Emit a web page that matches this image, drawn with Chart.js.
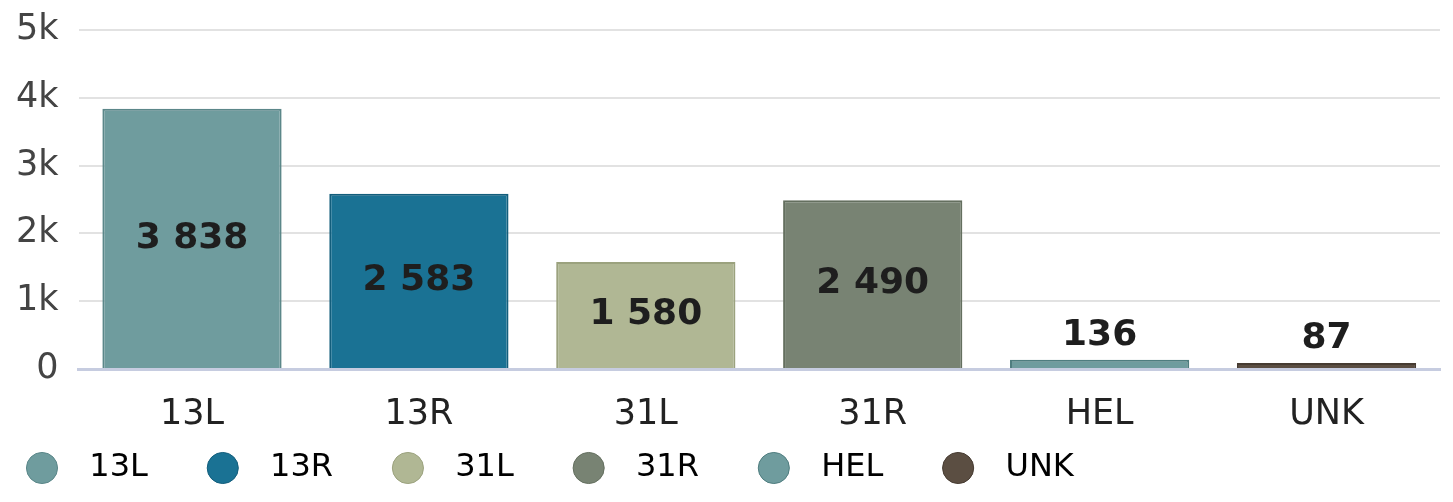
<!DOCTYPE html>
<html>
<head>
<meta charset="utf-8">
<script src="https://cdn.jsdelivr.net/npm/chart.js@4/dist/chart.umd.min.js"></script>
<style>
  html, body { margin: 0; padding: 0; background: #fff; }
  #wrap { width: 1453px; height: 502px; }
</style>
</head>
<body>
<div id="wrap"><canvas id="runway-chart"></canvas></div>
<script>
const runways = ["13L", "13R", "31L", "31R", "HEL", "UNK"];
const movements = [3838, 2583, 1580, 2490, 136, 87];
const yTicks = [0, 1000, 2000, 3000, 4000, 5000];
const fillColors = ["#6f9c9e", "#1a7294", "#b0b794", "#788373", "#6f9c9e", "#5b4e42"];
const edgeColors = ["#5b8789", "#135e7c", "#9ba27e", "#646f5f", "#4f7d7f", "#463b31"];

const FONT = "'DejaVu Sans', sans-serif";

// space as thousands separator
function fmt(v) {
  return String(v).replace(/\B(?=(\d{3})+(?!\d))/g, " ");
}

// draw value labels, inside tall bars, above short ones
const valueLabels = {
  id: "valueLabels",
  afterDatasetsDraw(chart) {
    const ctx = chart.ctx;
    const meta = chart.getDatasetMeta(0);
    ctx.save();
    ctx.font = "bold 36px " + FONT;
    ctx.fillStyle = "#1e1e1e";
    ctx.textAlign = "center";
    ctx.textBaseline = "middle";
    meta.data.forEach((bar, i) => {
      const h = bar.base - bar.y;
      let y = h > 60 ? bar.y + h / 2 : bar.y - 24;
      ctx.fillText(fmt(movements[i]), bar.x, y);
    });
    ctx.restore();
  },
};

// legend starts a bit further right than the y labels
const legendShift = {
  id: "legendShift",
  afterLayout(chart) {
    chart.legend.left += 22;
    chart.legend.right += 22;
  },
};

new Chart(document.getElementById("runway-chart"), {
  type: "bar",
  data: {
    labels: runways,
    datasets: [
      {
        label: "Movements",
        data: movements,
        backgroundColor: fillColors,
        borderColor: edgeColors,
        borderWidth: 2,
        borderSkipped: "bottom",
        barPercentage: 0.79,
        categoryPercentage: 1,
      },
    ],
  },
  options: {
    responsive: true,
    maintainAspectRatio: false,
    animation: false,
    layout: {
      padding: { left: -4, right: 13, top: 30, bottom: 8 },
    },
    plugins: {
      tooltip: { enabled: false },
      legend: {
        position: "bottom",
        align: "start",
        labels: {
          usePointStyle: true,
          pointStyle: "circle",
          boxHeight: 22,
          boxWidth: 22,
          padding: 13,
          color: "#222",
          font: { family: FONT, size: 32 },
          generateLabels(chart) {
            return runways.map((r, i) => ({
              text: "  " + r + "     ",
              fillStyle: fillColors[i],
              strokeStyle: edgeColors[i],
              lineWidth: 1,
              pointStyle: "circle",
              index: i,
              hidden: false,
            }));
          },
        },
      },
    },
    scales: {
      x: {
        grid: { display: false, drawTicks: false },
        border: { color: "#c6cce0", width: 3 },
        ticks: {
          color: "#222",
          padding: 25,
          font: { family: FONT, size: 35 },
        },
        afterFit(axis) {
          axis.height = 70;
        },
      },
      y: {
        min: 0,
        max: 5000,
        afterBuildTicks(axis) {
          axis.ticks = yTicks.map((v) => ({ value: v }));
        },
        afterFit(axis) {
          axis.paddingTop = 0;
        },
        grid: { color: "#e2e2e2", lineWidth: 2, drawTicks: false },
        border: { display: false },
        ticks: {
          color: "#444",
          padding: 20,
          font: { family: FONT, size: 35 },
          callback: (v) => (v === 0 ? "0" : v / 1000 + "k"),
        },
      },
    },
  },
  plugins: [valueLabels, legendShift],
});
</script>
</body>
</html>
